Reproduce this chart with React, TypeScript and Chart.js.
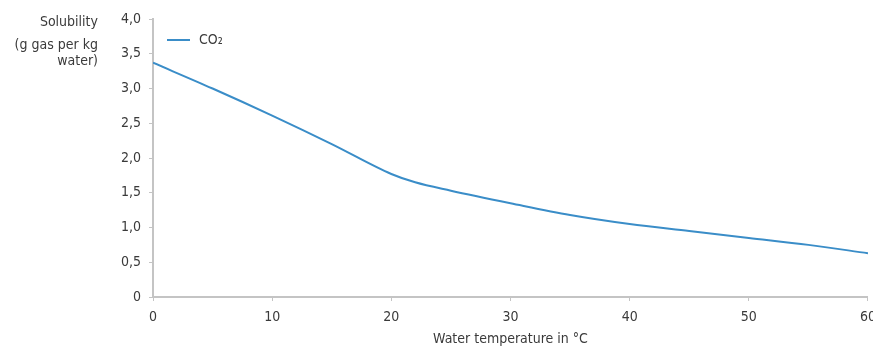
import React, { useEffect, useRef } from "react";
import { Chart, registerables } from "chart.js";

Chart.register(...registerables);

const temperatures = [0, 5, 10, 15, 20, 22, 25, 30, 35, 40, 45, 50, 55, 60];
const co2Solubility = [3.37, 3.0, 2.61, 2.2, 1.77, 1.65, 1.53, 1.35, 1.18, 1.05, 0.95, 0.85, 0.75, 0.63];
const seriesLabel = "CO₂";
const yTitleLines = ["Solubility", "(g gas per kg", "water)"];
const xTitle = "Water temperature in °C";

const FONT = "'DejaVu Sans Condensed', 'DejaVu Sans', sans-serif";
const TEXT = "#3a3a3a";
const LINE = "#3a8dc8";
const AXIS = "#c4c4c4";

const legendPlugin = {
  id: "customLegend",
  afterDraw(chart: any) {
    const { ctx, chartArea } = chart;
    const y = chartArea.top + 21;
    const x0 = chartArea.left + 14;
    ctx.save();
    ctx.strokeStyle = LINE;
    ctx.lineWidth = 2;
    ctx.beginPath();
    ctx.moveTo(x0, y);
    ctx.lineTo(x0 + 23, y);
    ctx.stroke();
    ctx.fillStyle = TEXT;
    ctx.font = `14px ${FONT}`;
    ctx.textBaseline = "middle";
    ctx.textAlign = "left";
    ctx.fillText(chart.data.datasets[0].label, x0 + 32, y);
    ctx.restore();
  },
};

export default function App() {
  const ref = useRef<HTMLCanvasElement>(null);
  useEffect(() => {
    if (!ref.current) return;
    const chart = new Chart(ref.current, {
      type: "line",
      data: {
        datasets: [
          {
            label: seriesLabel,
            data: temperatures.map((t, i) => ({ x: t, y: co2Solubility[i] })),
            borderColor: LINE,
            borderWidth: 2,
            pointRadius: 0,
            cubicInterpolationMode: "monotone",
            fill: false,
          },
        ],
      },
      options: {
        responsive: false,
        animation: false,
        layout: { padding: { top: 19, left: 0, right: 0, bottom: 0 } },
        plugins: { legend: { display: false }, tooltip: { enabled: false } },
        scales: {
          x: {
            type: "linear",
            min: 0,
            max: 60,
            ticks: { stepSize: 10, color: TEXT, font: { family: FONT, size: 14 }, padding: 8, maxRotation: 0 },
            grid: { display: true, drawOnChartArea: false, drawTicks: true, tickLength: 4, color: AXIS },
            border: { color: AXIS, width: 2 },
            title: { display: true, text: xTitle, color: TEXT, font: { family: FONT, size: 14 }, padding: { top: 0, bottom: 2 } },
            afterFit: (s: any) => { s.height = 53; },
          },
          y: {
            min: 0,
            max: 4,
            ticks: {
              stepSize: 0.5,
              color: TEXT,
              font: { family: FONT, size: 14 },
              padding: 8,
              callback: (v: any) => (v === 0 ? "0" : Number(v).toFixed(1).replace(".", ",")),
            },
            grid: { display: true, drawOnChartArea: false, drawTicks: true, tickLength: 4, color: AXIS },
            border: { color: AXIS, width: 2 },
            afterFit: (s: any) => { s.width = 153; },
          },
        },
      },
      plugins: [legendPlugin],
    } as any);
    return () => chart.destroy();
  }, []);

  const tops = [13, 36, 52];
  return (
    <div style={{ position: "fixed", left: 0, top: 0, width: 873, height: 350, overflow: "hidden", background: "#fff" }}>
      <canvas ref={ref} width={884} height={350} style={{ display: "block" }} />
      {yTitleLines.map((line, i) => (
        <div
          key={i}
          style={{
            position: "absolute",
            left: 0,
            width: 98,
            top: tops[i],
            textAlign: "right",
            font: `14px/16px ${FONT}`,
            color: TEXT,
            whiteSpace: "nowrap",
          }}
        >
          {line}
        </div>
      ))}
    </div>
  );
}
